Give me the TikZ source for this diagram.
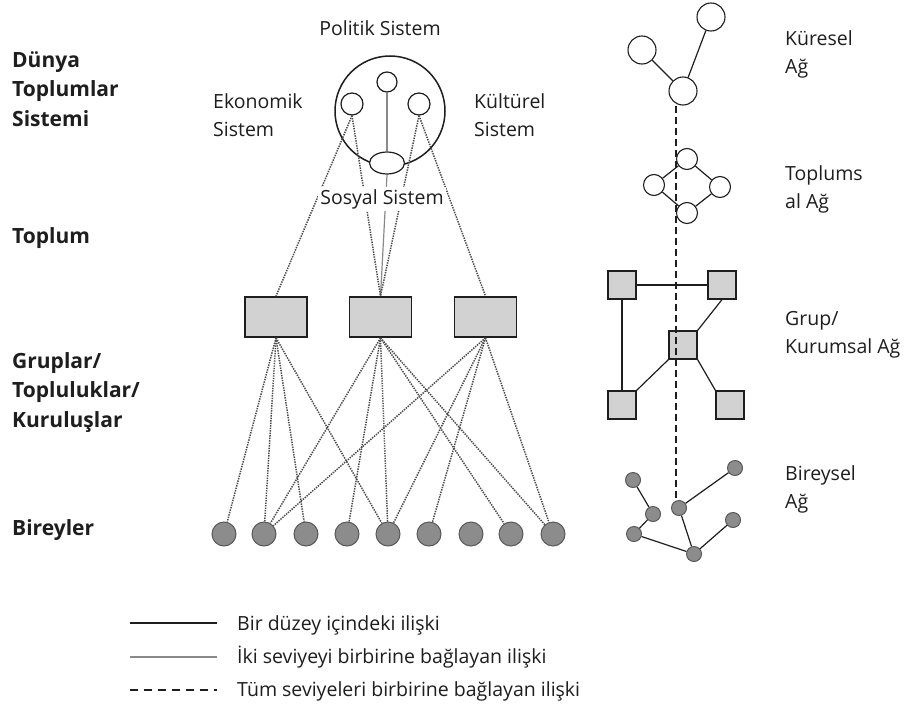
\documentclass[tikz,border=0pt]{standalone}
\usepackage{fontspec}
\setmainfont{Open Sans}
\usetikzlibrary{shapes.geometric}
\newcommand{\mlines}[1]{\begin{tabular}[t]{@{}l@{}}#1\end{tabular}}
\definecolor{boxfill}{HTML}{D2D2D2}
\definecolor{dotfill}{HTML}{8C8C8C}
\definecolor{ink}{HTML}{1E1E1E}
\definecolor{linkgray}{HTML}{8A8A8A}
\definecolor{dotgray}{HTML}{4A4A4A}
\begin{document}
\begin{tikzpicture}[x=1pt,y=-1pt,
  font=\fontsize{19.5}{28.5}\selectfont, text=ink,
  lvl/.style={font=\fontsize{21}{29.5}\selectfont\bfseries, anchor=base west, inner sep=0},
  txt/.style={anchor=base west, inner sep=0},
  sys/.style={circle, draw=ink, line width=1.2, fill=white, inner sep=0},
  grp/.style={rectangle, draw=ink, line width=1.7, fill=boxfill, minimum width=62, minimum height=40, inner sep=0},
  ind/.style={circle, draw=black!65, line width=1, fill=dotfill, minimum size=24, inner sep=0},
  sq/.style={rectangle, draw=ink, line width=1.2, fill=boxfill, minimum size=28, inner sep=0},
  net/.style={circle, draw=ink, line width=1.1, fill=white, inner sep=0},
  inet/.style={circle, draw=black!65, line width=1, fill=dotfill, minimum size=15, inner sep=0},
  same/.style={draw=ink, line width=1.2},
  cross/.style={draw=linkgray, line width=1.2},
  dots/.style={draw=dotgray, line width=1.5, dash pattern=on 1.4pt off 1.1pt},
  alldash/.style={draw=ink, line width=1.2, dash pattern=on 7pt off 4pt}]
\useasboundingbox[fill=white] (0,0) rectangle (904,720);

% level labels
\node[lvl] (lw) at (12,67) {\mlines{Dünya\\Toplumlar\\Sistemi}};
\node[lvl] (ls) at (12,243) {Toplum};
\node[lvl] (lg) at (12,368) {\mlines{Gruplar/\\Topluluklar/\\Kuruluşlar}};
\node[lvl] (li) at (12,535) {Bireyler};

% world system
\node[sys, minimum size=110, line width=1.5] (world) at (390,111) {};
\node[sys, minimum size=20] (pol) at (387,82) {};
\node[sys, minimum size=22] (eco) at (352,104) {};
\node[sys, minimum size=22] (kul) at (419,104) {};
\node[sys, ellipse, minimum width=35, minimum height=22] (sos) at (387,163) {};

\node[anchor=base, inner sep=0] (tpol) at (380,35) {Politik Sistem};
\node[txt] (teco) at (213,108) {\mlines{Ekonomik\\Sistem}};
\node[txt] (tkul) at (474,108) {\mlines{Kültürel\\Sistem}};

% groups
\node[grp] (b1) at (276,317) {};
\node[grp] (b2) at (380.5,317) {};
\node[grp] (b3) at (485.5,317) {};

% individuals
\foreach \i/\x in {1/224,2/264,3/306,4/347,5/388,6/429,7/471,8/511,9/553}
  \node[ind] (c\i) at (\x,534) {};

% links system -> groups
\draw[cross] (pol.south) -- (sos.north);
\draw[cross] (sos.south) -- (b2.north);
\draw[dots] (eco.south) -- (b1.north);
\draw[dots] (eco.south) -- (b2.north);
\draw[dots] (kul.south) -- (b2.north);
\draw[dots] (kul.south) -- (b3.north);

% links groups -> individuals
\foreach \j in {1,2,3,5} \draw[dots] (b1.south) -- (c\j);
\foreach \j in {2,4,5,8,9} \draw[dots] (b2.south) -- (c\j);
\foreach \j in {2,5,6,9} \draw[dots] (b3.south) -- (c\j);

\node[anchor=base, fill=white, inner sep=2] (tsos) at (382,204) {Sosyal Sistem};

% right: global network
\node[net, minimum size=28] (k1) at (642,50) {};
\node[net, minimum size=28] (k2) at (711,17) {};
\node[net, minimum size=28] (k3) at (683,91) {};
\draw[same] (k1) -- (k3);
\draw[same] (k2) -- (k3);
\node[txt] (tk) at (785,45) {\mlines{Küresel\\Ağ}};

% societal network
\node[net, minimum size=21] (t1) at (687,159) {};
\node[net, minimum size=21] (t2) at (654,185) {};
\node[net, minimum size=21] (t3) at (720,187) {};
\node[net, minimum size=21] (t4) at (687,213) {};
\draw[same] (t1) -- (t2);
\draw[same] (t1) -- (t3);
\draw[same] (t2) -- (t4);
\draw[same] (t3) -- (t4);
\node[txt] (tt) at (785,180) {\mlines{Toplums\\al Ağ}};

% group network
\node[sq] (g1) at (622,285) {};
\node[sq] (g2) at (722,285) {};
\node[sq] (g3) at (683,345) {};
\node[sq] (g4) at (622,405) {};
\node[sq] (g5) at (730,405) {};
\draw[same] (g1) -- (g2);
\draw[same] (g1) -- (g4);
\draw[same] (g2.south) -- (g3.north east);
\draw[same] (g3.south west) -- (g4.north east);
\draw[same] (g3.south east) -- (g5.north west);
\node[txt] (tg) at (785,325) {\mlines{Grup/\\Kurumsal Ağ}};

% individual network
\node[inet] (i1) at (633,480) {};
\node[inet] (i2) at (653,514) {};
\node[inet] (i3) at (634,534) {};
\node[inet] (i4) at (679,508) {};
\node[inet] (i5) at (694,554) {};
\node[inet] (i6) at (735,468) {};
\node[inet] (i7) at (733,520) {};
\draw[same] (i1) -- (i2);
\draw[same] (i2) -- (i3);
\draw[same] (i3) -- (i5);
\draw[same] (i4) -- (i5);
\draw[same] (i4) -- (i6);
\draw[same] (i5) -- (i7);
\node[txt] (ti) at (785,480) {\mlines{Bireysel\\Ağ}};

% all-level link
\draw[alldash] ([xshift=-7]k3.south) -- ([xshift=-7]k3.south |- i4.north);

% legend
\coordinate (l1a) at (130,623); \coordinate (l1b) at (217,623);
\coordinate (l2a) at (130,657); \coordinate (l2b) at (217,657);
\coordinate (l3a) at (130,690); \coordinate (l3b) at (217,690);
\draw[same, line width=1.6] (l1a) -- (l1b);
\draw[cross, line width=1.4] (l2a) -- (l2b);
\draw[alldash, dash pattern=on 8pt off 6pt] (l3a) -- (l3b);
\node[txt] (e1) at (237,630) {Bir düzey içindeki ilişki};
\node[txt] (e2) at (237,663) {İki seviyeyi birbirine bağlayan ilişki};
\node[txt] (e3) at (237,696) {Tüm seviyeleri birbirine bağlayan ilişki};
\end{tikzpicture}
\end{document}
